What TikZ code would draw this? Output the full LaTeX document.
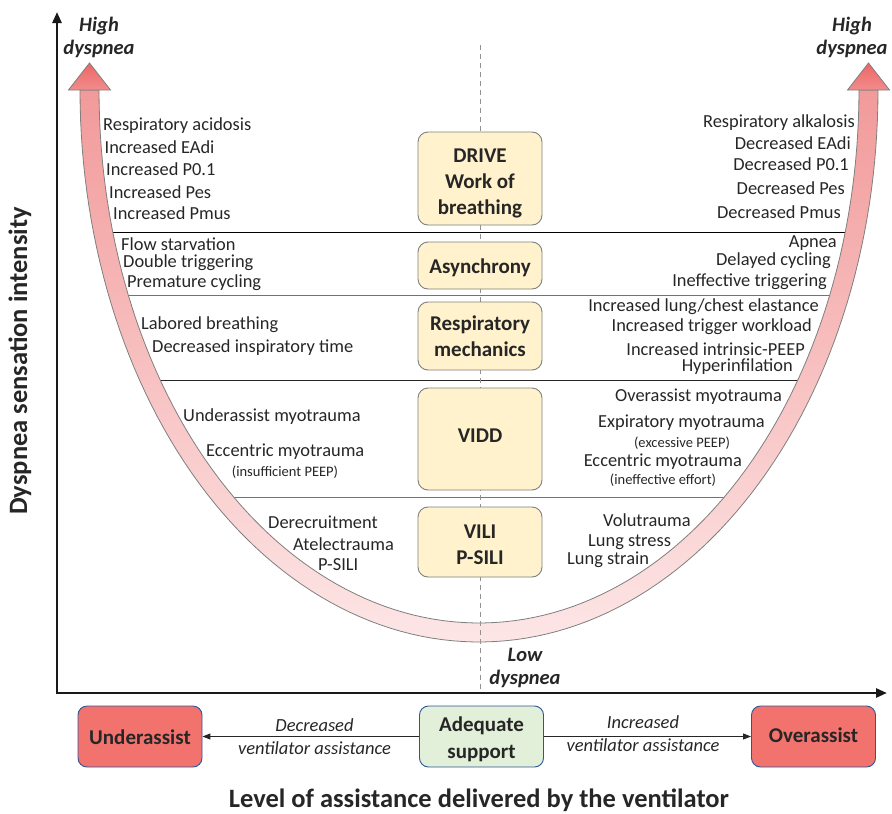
\documentclass[tikz,border=0pt]{standalone}
\usepackage{fontspec}
\setmainfont{Carlito}
\usetikzlibrary{arrows.meta}

\definecolor{txt}{HTML}{262626}
\definecolor{cream}{HTML}{FFF2CC}
\definecolor{boxline}{HTML}{7F7F7F}
\definecolor{redbox}{HTML}{F2736D}
\definecolor{greenbox}{HTML}{E2EFD9}
\definecolor{bluebord}{HTML}{2F5597}
\definecolor{bandtop}{HTML}{F29A9A}
\definecolor{bandbot}{HTML}{FDE6E6}
\definecolor{headtop}{HTML}{EE6666}
\definecolor{headbot}{HTML}{F28C8C}

\tikzset{
  lbl/.style={font=\fontsize{18.4}{20}\selectfont, text=txt, inner sep=0pt},
  sml/.style={font=\fontsize{14.5}{16}\selectfont, text=txt, inner sep=0pt},
  hi/.style={font=\bfseries\itshape\fontsize{20.5}{23}\selectfont, text=txt, align=center, inner sep=0pt},
  itl/.style={font=\itshape\fontsize{18.5}{23}\selectfont, text=txt, align=center, inner sep=0pt},
  cbox/.style={draw=boxline, fill=cream, line width=0.9pt, rounded corners=10pt,
    minimum width=124pt, inner sep=0pt},
  abox/.style={draw=bluebord, line width=0.9pt, rounded corners=9pt,
    minimum width=124pt, minimum height=61pt, inner sep=0pt},
  btxt/.style={font=\bfseries\fontsize{21}{26}\selectfont, text=txt, align=center, inner sep=0pt},
  atxt/.style={font=\bfseries\fontsize{21}{27}\selectfont, text=txt, align=center, inner sep=0pt},
  axis/.style={line width=2.6pt, draw=black!90, -{Triangle[length=11pt,width=9pt]}},
  conn/.style={line width=1pt, draw=txt, -{Triangle[length=8pt,width=6pt]}},
  divider/.style={line width=1pt},
  ttl/.style={font=\bfseries\fontsize{26.5}{30}\selectfont, text=txt, inner sep=0pt},
}

\begin{document}
\begin{tikzpicture}[x=1pt,y=-1pt]
\useasboundingbox (0,0) rectangle (892,814);

% horizontal dividers between the inner walls of the U band
\foreach \yy/\col in {232/black,295/black!55,380/black!85,497/black!55}{
  \pgfmathsetmacro\ww{380*sqrt(1-((\yy-90)/533)^2)}
  \draw[divider,\col] ({479-\ww},\yy) -- ({479+\ww},\yy);
}

% U-shaped band
\shade[top color=bandtop, bottom color=bandbot, draw=boxline, line width=0.8pt]
  plot[domain=180:360, samples=120] ({479+399*cos(\x)},{90-552*sin(\x)})
  -- plot[domain=360:180, samples=120] ({479+380*cos(\x)},{90-533*sin(\x)})
  -- cycle;
% arrow heads at both ends
\shade[top color=headtop, bottom color=headbot, draw=boxline, line width=0.8pt]
  (68.5,90) -- (89.5,63) -- (110.5,90) -- cycle;
\shade[top color=headtop, bottom color=headbot, draw=boxline, line width=0.8pt]
  (847.5,90) -- (868.5,63) -- (889.5,90) -- cycle;

% central dashed axis
\coordinate (ctop) at (480,45);
\coordinate (cbot) at (480,693);
\draw[boxline!85, line width=1pt, dash pattern=on 5pt off 4pt] (ctop) -- (cbot);

% axes
\coordinate (orig) at (57,693);
\coordinate (ytip) at (57,12);
\coordinate (xtip) at (887,693);
\draw[axis] (57,694.3) -- (ytip);
\draw[axis] (orig) -- (xtip);

% central category boxes and their titles
\node[cbox, minimum height=93pt] (drive) at (480,178.5) {};
\node[cbox, minimum height=47pt] (asyn) at (480,265.5) {};
\node[cbox, minimum height=68pt] (mech) at (480,336) {};
\node[cbox, minimum height=102pt] (vidd) at (480,439) {};
\node[cbox, minimum height=70pt] (vili) at (480,542) {};
\node[btxt] (drivet) at (480,183) {DRIVE\\Work of\\breathing};
\node[btxt] (asynt) at (480,267.5) {Asynchrony};
\node[btxt] (mecht) at (480,336) {Respiratory\\mechanics};
\node[btxt] (viddt) at (480,435.5) {VIDD};
\node[btxt] (vilit) at (480,545) {VILI\\P-SILI};

% end labels
\node[hi] (hl) at (99,37) {High\\dyspnea};
\node[hi] (hr) at (852,37) {High\\dyspnea};
\node[hi] (lo) at (525,668) {Low\\dyspnea};

% left side labels
\node[lbl, anchor=west] (l1) at (103,126) {Respiratory acidosis};
\node[lbl, anchor=west] (l2) at (104.5,147) {Increased EAdi};
\node[lbl, anchor=west] (l3) at (106,169) {Increased P0.1};
\node[lbl, anchor=west] (l4) at (109,192) {Increased Pes};
\node[lbl, anchor=west] (l5) at (113,213) {Increased Pmus};

\node[lbl, anchor=west] (l6) at (121,244) {Flow starvation};
\node[lbl, anchor=west] (l7) at (123,263) {Double triggering};
\node[lbl, anchor=west] (l8) at (127,283) {Premature cycling};

\node[lbl, anchor=west] (l9) at (141,325) {Labored breathing};
\node[lbl, anchor=west] (l10) at (152,348) {Decreased inspiratory time};

\node[lbl, anchor=west] (l11) at (183,417) {Underassist myotrauma};
\node[lbl, anchor=west] (l12) at (206,452) {Eccentric myotrauma};
\node[sml] (l13) at (285,472) {(insufficient PEEP)};

\node[lbl, anchor=west] (l14) at (268,522) {Derecruitment};
\node[lbl, anchor=west] (l15) at (293,544) {Atelectrauma};
\node[lbl, anchor=west] (l16) at (318,565) {P-SILI};

% right side labels
\node[lbl, anchor=east] (r1) at (855,123) {Respiratory alkalosis};
\node[lbl, anchor=east] (r2) at (851,143) {Decreased EAdi};
\node[lbl, anchor=east] (r3) at (849,164) {Decreased P0.1};
\node[lbl, anchor=east] (r4) at (845,188) {Decreased Pes};
\node[lbl, anchor=east] (r5) at (841,212) {Decreased Pmus};

\node[lbl, anchor=east] (r6) at (837,243) {Apnea};
\node[lbl, anchor=east] (r7) at (831,261) {Delayed cycling};
\node[lbl, anchor=east] (r8) at (827,282) {Ineffective triggering};

\node[lbl, anchor=east] (r9) at (819,307) {Increased lung/chest elastance};
\node[lbl, anchor=east] (r10) at (812,327) {Increased trigger workload};
\node[lbl, anchor=east] (r11) at (805,349) {Increased intrinsic-PEEP};
\node[lbl, anchor=east] (r12) at (793,367) {Hyperinfilation};

\node[lbl, anchor=east] (r13) at (782,397) {Overassist myotrauma};
\node[lbl, anchor=east] (r14) at (765,423) {Expiratory myotrauma};
\node[sml] (r15) at (682,443) {(excessive PEEP)};
\node[lbl, anchor=east] (r16) at (742,462) {Eccentric myotrauma};
\node[sml] (r17) at (663,480) {(ineffective effort)};

\node[lbl, anchor=west] (r18) at (603,520) {Volutrauma};
\node[lbl, anchor=west] (r19) at (588,542) {Lung stress};
\node[lbl, anchor=west] (r20) at (567,560) {Lung strain};

% assistance level boxes
\node[abox, fill=redbox] (under) at (140,736.5) {};
\node[abox, fill=greenbox] (adeq) at (481.5,736.5) {};
\node[abox, fill=redbox] (over) at (813.5,736.5) {};
\node[atxt] (undert) at (140,737) {Underassist};
\node[atxt] (adeqt) at (481.5,739) {Adequate\\support};
\node[atxt] (overt) at (813.5,735.5) {Overassist};

\draw[conn] (adeq) -- (under);
\draw[conn] (adeq) -- (over);
\node[itl] (dl) at (314.5,736.5) {Decreased\\ventilator assistance};
\node[itl] (il) at (643,734) {Increased\\ventilator assistance};

% axis titles
\node[ttl] (xt) at (479,800) {Level of assistance delivered by the ventilator};
\node[ttl, rotate=90] (yt) at (20,361) {Dyspnea sensation intensity};
\end{tikzpicture}
\end{document}
